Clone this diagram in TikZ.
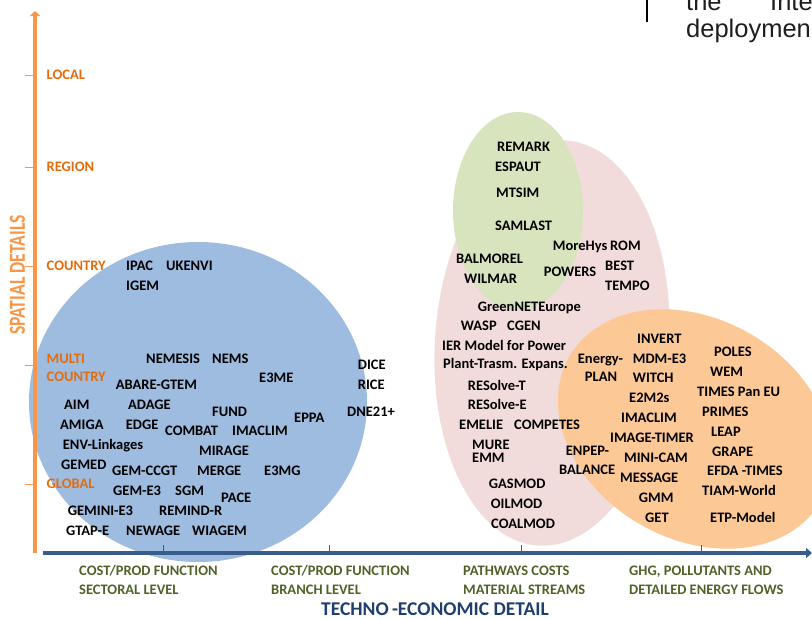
\documentclass[tikz,border=0pt]{standalone}
\usepackage{fontspec}
\setmainfont{Carlito}
\newfontfamily\arialfont{Liberation Sans}
\usetikzlibrary{arrows.meta}
\definecolor{blueE}{RGB}{158,187,224}
\definecolor{pinkE}{RGB}{242,220,219}
\definecolor{greenE}{RGB}{215,228,189}
\definecolor{orangeE}{RGB}{251,200,150}
\definecolor{axisO}{RGB}{247,150,70}
\definecolor{textO}{RGB}{228,108,10}
\definecolor{axisB}{RGB}{56,93,138}
\definecolor{textG}{RGB}{79,98,40}
\definecolor{textB}{RGB}{31,63,110}
\definecolor{pageT}{RGB}{30,30,30}
\tikzset{
  lbl/.style={font=\bfseries\fontsize{14.5}{16}\selectfont, inner sep=0pt, text height=9.3pt, text depth=0pt, anchor=west, text=black},
  olbl/.style={lbl, text=textO},
  glbl/.style={lbl, text=textG},
  ytick/.style={draw=axisO, line width=1pt},
  xtick/.style={draw=axisB, line width=0.8pt},
  pagetext/.style={font=\arialfont\fontsize{25.5}{28}\selectfont, inner sep=0pt, anchor=base west, text=pageT}
}
\begin{document}
\begin{tikzpicture}[x=1pt,y=-1pt]
\useasboundingbox (0,0) rectangle (812,619);
% ellipses
\fill[blueE] (198,402) ellipse [x radius=169, y radius=160];
\fill[pinkE, rotate around={-4:(552,343)}] (552,343) ellipse [x radius=117, y radius=203];
\fill[greenE] (518,211) ellipse [x radius=65, y radius=99];
\fill[orangeE, rotate around={-30:(695,429)}] (695,429) ellipse [x radius=145, y radius=110];
% axes
\coordinate (yo) at (35,553);
\coordinate (ytop) at (35,11);
\coordinate (xo) at (43,553);
\coordinate (xend) at (812,553);
\draw[axisB, line width=4.3pt, -{Triangle[width=10pt,length=6pt]}] (xo) -- (xend);
\draw[axisO, line width=4pt, -{Triangle[width=10pt,length=5pt]}] (yo) -- (ytop);
% y ticks
\foreach \yy in {75,167,266,365,484} \draw[ytick] (25,\yy) -- (33,\yy);
% x ticks
\foreach \xx in {163,329,521,701} \draw[xtick] (\xx,545) -- (\xx,551);
% y axis title
\node[inner sep=0pt, rotate=90, text=axisO, font=\bfseries\fontsize{19}{20}\selectfont] (ytitle) at (17.5,275) {\scalebox{0.93}[1.2]{SPATIAL DETAILS}};
% y labels
\node[olbl] (local) at (46.5,75) {LOCAL};
\node[olbl] (region) at (46.5,167) {REGION};
\node[olbl] (country) at (46.5,266) {COUNTRY};
\node[olbl] (multi) at (46.5,359) {MULTI};
\node[olbl] (multic) at (46.5,377) {COUNTRY};
\node[olbl] (global) at (46.5,484) {GLOBAL};
% blue ellipse labels
\node[lbl] (ipac) at (126,266) {IPAC};
\node[lbl] (ukenvi) at (166,266) {UKENVI};
\node[lbl] (igem) at (126,286) {IGEM};
\node[lbl] (nemesis) at (146,359) {NEMESIS};
\node[lbl] (nems) at (212,359) {NEMS};
\node[lbl] (e3me) at (259,378) {E3ME};
\node[lbl] (abare) at (115.7,385) {ABARE-GTEM};
\node[lbl] (dice) at (357.7,365) {DICE};
\node[lbl] (rice) at (357.7,385) {RICE};
\node[lbl] (dne) at (347,412) {DNE21+};
\node[lbl] (aim) at (64,405) {AIM};
\node[lbl] (adage) at (128,405) {ADAGE};
\node[lbl] (fund) at (212,412) {FUND};
\node[lbl] (eppa) at (294,418) {EPPA};
\node[lbl] (amiga) at (60,425) {AMIGA};
\node[lbl] (edge) at (125.7,425) {EDGE};
\node[lbl] (combat) at (165,431) {COMBAT};
\node[lbl] (imaclimA) at (232,431) {IMACLIM};
\node[lbl] (env) at (62.7,445) {ENV-Linkages};
\node[lbl] (mirage) at (199,451) {MIRAGE};
\node[lbl] (gemed) at (61,465) {GEMED};
\node[lbl] (gemccgt) at (112,471) {GEM-CCGT};
\node[lbl] (merge) at (197,471) {MERGE};
\node[lbl] (e3mg) at (264,471) {E3MG};
\node[lbl] (geme3) at (113,491) {GEM-E3};
\node[lbl] (sgm) at (175,491) {SGM};
\node[lbl] (pace) at (221,498) {PACE};
\node[lbl] (gemini) at (67.7,511) {GEMINI-E3};
\node[lbl] (remind) at (159,511) {REMIND-R};
\node[lbl] (gtap) at (66,531) {GTAP-E};
\node[lbl] (newage) at (126,531) {NEWAGE};
\node[lbl] (wiagem) at (192,531) {WIAGEM};
% green / pink labels
\node[lbl] (remark) at (497,147) {REMARK};
\node[lbl] (espaut) at (495,167) {ESPAUT};
\node[lbl] (mtsim) at (496,193) {MTSIM};
\node[lbl] (samlast) at (495,226) {SAMLAST};
\node[lbl] (morehys) at (552.7,246) {MoreHys};
\node[lbl] (rom) at (610,246) {ROM};
\node[lbl] (balmorel) at (456,259) {BALMOREL};
\node[lbl] (powers) at (543.7,272) {POWERS};
\node[lbl] (best) at (605,266) {BEST};
\node[lbl] (wilmar) at (464,279) {WILMAR};
\node[lbl] (tempo) at (605,286) {TEMPO};
\node[lbl] (greennet) at (477.7,307) {GreenNETEurope};
\node[lbl] (wasp) at (460.7,326) {WASP};
\node[lbl] (cgen) at (507,326) {CGEN};
\node[lbl] (ier) at (442,346) {IER Model for Power};
\node[lbl] (plant) at (443,364) {Plant-Trasm. Expans.};
\node[lbl] (resolvet) at (467.7,386) {RESolve-T};
\node[lbl] (resolvee) at (467.7,405) {RESolve-E};
\node[lbl] (emelie) at (459,425) {EMELIE};
\node[lbl] (competes) at (514,425) {COMPETES};
\node[lbl] (mure) at (472,445) {MURE};
\node[lbl] (emm) at (472,458) {EMM};
\node[lbl] (gasmod) at (488.7,484) {GASMOD};
\node[lbl] (oilmod) at (490.7,504) {OILMOD};
\node[lbl] (coalmod) at (491,524) {COALMOD};
% orange labels
\node[lbl] (energy) at (577.7,359) {Energy-};
\node[lbl] (plan) at (584.7,377) {PLAN};
\node[lbl] (enpep) at (565.7,451) {ENPEP-};
\node[lbl] (balance) at (559,470) {BALANCE};
\node[lbl] (invert) at (637,339) {INVERT};
\node[lbl] (mdm) at (632.7,359) {MDM-E3};
\node[lbl] (witch) at (632.7,378) {WITCH};
\node[lbl] (e2m2s) at (629,398) {E2M2s};
\node[lbl] (imaclimB) at (621,418) {IMACLIM};
\node[lbl] (image) at (610,438) {IMAGE-TIMER};
\node[lbl] (minicam) at (624,458) {MINI-CAM};
\node[lbl] (message) at (620,478) {MESSAGE};
\node[lbl] (gmm) at (638.7,498) {GMM};
\node[lbl] (get) at (645,518) {GET};
\node[lbl] (poles) at (714,352) {POLES};
\node[lbl] (wem) at (710,372) {WEM};
\node[lbl] (times) at (697,392) {TIMES Pan EU};
\node[lbl] (primes) at (702,412) {PRIMES};
\node[lbl] (leap) at (711,432) {LEAP};
\node[lbl] (grape) at (712,452) {GRAPE};
\node[lbl] (efda) at (707,471) {EFDA -TIMES};
\node[lbl] (tiam) at (702,491) {TIAM-World};
\node[lbl] (etp) at (710,518) {ETP-Model};
% x labels
\node[glbl] (x1a) at (79,571) {COST/PROD FUNCTION};
\node[glbl] (x1b) at (79,590) {SECTORAL LEVEL};
\node[glbl] (x2a) at (271,571) {COST/PROD FUNCTION};
\node[glbl] (x2b) at (271,590) {BRANCH LEVEL};
\node[glbl] (x3a) at (463,571) {PATHWAYS COSTS};
\node[glbl] (x3b) at (463,590) {MATERIAL STREAMS};
\node[glbl] (x4a) at (629,571) {GHG, POLLUTANTS AND};
\node[glbl] (x4b) at (629,590) {DETAILED ENERGY FLOWS};
\node[inner sep=0pt, text=textB, font=\bfseries\fontsize{19.5}{22}\selectfont, text height=12.6pt, text depth=0pt] (xtitle) at (435,609) {TECHNO\,-ECONOMIC DETAIL};
% page fragment top right
\coordinate (barT) at (647,0);
\coordinate (barB) at (647,22);
\draw[black, line width=1.3pt] (barT) -- (barB);
\node[pagetext] (the) at (686,10) {the};
\node[pagetext] (inter) at (770,10) {Inter};
\node[pagetext] (deploy) at (686,37) {deploymen};
\end{tikzpicture}
\end{document}
